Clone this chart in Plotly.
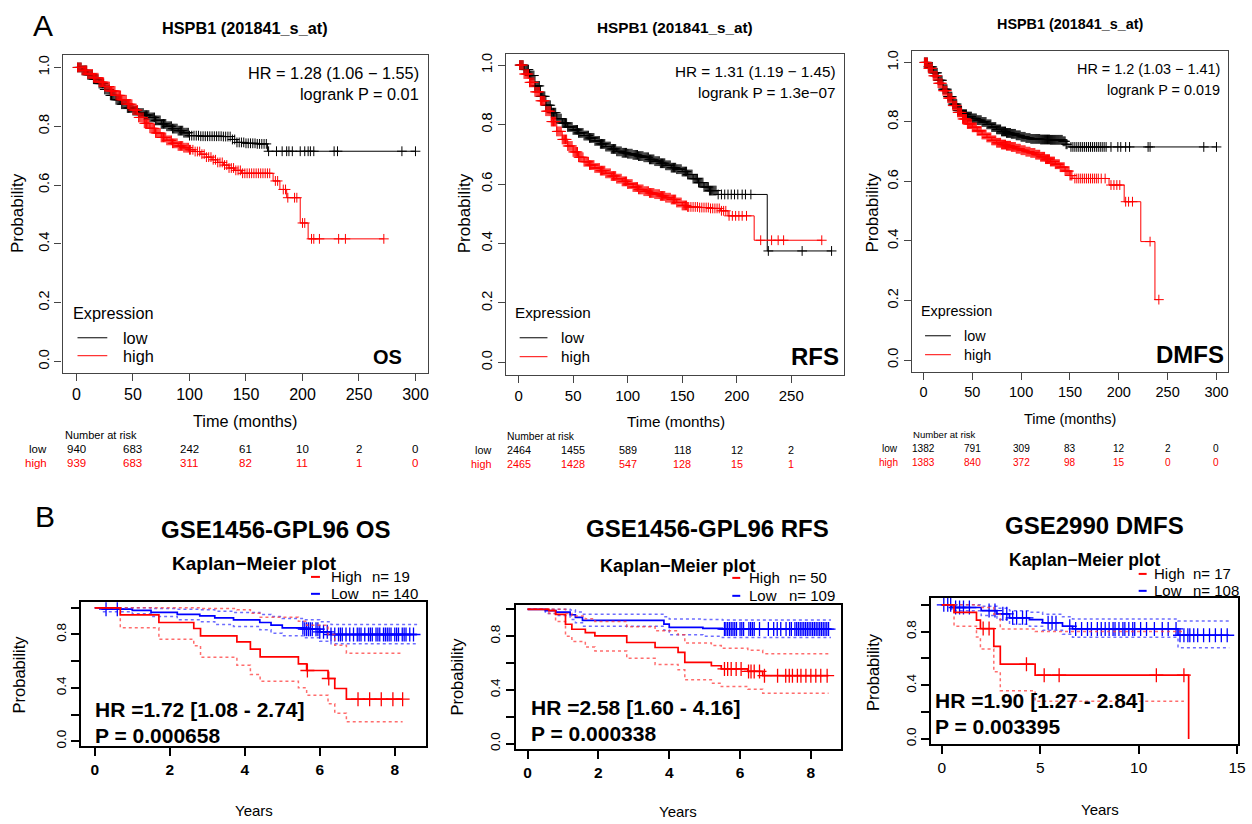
import numpy as np
import plotly.graph_objects as go

W, H = 1252, 824
FONT = "Liberation Sans, Arial, sans-serif"

# ---------------- Panel A1 : OS ----------------
a1_low_t = [0, 5, 10, 15, 20, 25, 30, 35, 40, 45, 50, 55, 60, 65, 70, 75, 80, 85, 90, 95, 100, 110, 120, 130, 138, 142, 150, 160, 169, 300]
a1_low_s = [1.0, 0.99, 0.975, 0.96, 0.945, 0.925, 0.905, 0.89, 0.875, 0.862, 0.853, 0.845, 0.838, 0.83, 0.82, 0.808, 0.80, 0.792, 0.785, 0.778, 0.768, 0.766, 0.766, 0.765, 0.755, 0.745, 0.742, 0.74, 0.715, 0.715]
a1_low_cens = [1, 2, 3, 4, 5, 6, 7, 8, 9, 10, 11, 12, 13, 14, 15, 16, 17, 18, 19, 20, 21, 22, 23, 24, 25, 26, 27, 28, 29, 30,
               31, 32, 33, 34, 35, 36, 37, 38, 39, 40, 41, 42, 43, 44, 45, 46, 47, 48, 49, 50, 51, 52, 53, 54, 55, 56, 57, 58, 59, 60,
               61, 62, 63, 64, 65, 66, 67, 68, 69, 70, 71, 72, 73, 74, 75, 76, 77, 78, 79, 80, 81, 82, 83, 84, 85, 86, 87, 88, 89, 90,
               91, 92, 93, 94, 95, 96, 97, 98, 99, 100, 102, 104, 106, 108, 110, 112, 114, 116, 118, 120, 122, 124, 126, 128, 130,
               132, 134, 136, 138, 140, 142, 144, 146, 148, 150, 152, 154, 156, 158, 160, 162, 164, 166, 168,
               170, 177, 182, 186, 188, 191, 198, 202, 205, 207, 210, 228, 231, 288, 300]
a1_high_t = [0, 5, 10, 15, 20, 25, 30, 35, 40, 45, 50, 55, 60, 65, 70, 75, 80, 85, 90, 95, 100, 105, 110, 115, 120, 125, 130, 135, 140, 146, 174, 180, 186, 198, 205, 272]
a1_high_s = [1.0, 0.99, 0.978, 0.965, 0.95, 0.935, 0.92, 0.905, 0.89, 0.875, 0.855, 0.83, 0.81, 0.793, 0.777, 0.762, 0.752, 0.742, 0.733, 0.727, 0.72, 0.714, 0.705, 0.695, 0.686, 0.677, 0.668, 0.658, 0.65, 0.64, 0.614, 0.585, 0.557, 0.471, 0.417, 0.417]
a1_high_cens = [1, 2, 3, 4, 5, 6, 7, 8, 9, 10, 11, 12, 13, 14, 15, 16, 17, 18, 19, 20, 21, 22, 23, 24, 25, 26, 27, 28, 29, 30,
                31, 32, 33, 34, 35, 36, 37, 38, 39, 40, 41, 42, 43, 44, 45, 46, 47, 48, 49, 50, 51, 52, 53, 54, 55, 56, 57, 58, 59, 60,
                61, 62, 63, 64, 65, 66, 67, 68, 69, 70, 71, 72, 73, 74, 75, 76, 77, 78, 79, 80, 81, 82, 83, 84, 85, 86, 87, 88, 89, 90,
                91, 92, 93, 94, 95, 96, 97, 98, 99, 100, 101, 103, 105, 107, 109, 111, 113, 115, 117, 119, 121, 123, 125, 127, 129,
                131, 133, 135, 137, 139, 141, 143, 145, 147, 149, 151, 153, 155, 157, 159, 161, 163, 165, 167, 169, 171,
                176, 178, 183, 185, 187, 193, 195, 200, 202, 208, 210, 215, 232, 238, 272]
a1_risk_t = [0, 50, 100, 150, 200, 250, 300]
a1_risk_low = [940, 683, 242, 61, 10, 2, 0]
a1_risk_high = [939, 683, 311, 82, 11, 1, 0]

# ---------------- Panel A2 : RFS ----------------
a2_low_t = [0, 5, 10, 15, 20, 25, 30, 35, 40, 45, 50, 55, 60, 65, 70, 75, 80, 85, 90, 95, 100, 105, 110, 115, 120, 125, 130, 135, 140, 145, 150, 155, 160, 165, 170, 175, 182, 228, 287]
a2_low_s = [1.0, 0.985, 0.965, 0.93, 0.895, 0.865, 0.84, 0.82, 0.805, 0.792, 0.782, 0.772, 0.763, 0.755, 0.745, 0.735, 0.726, 0.718, 0.71, 0.705, 0.702, 0.698, 0.694, 0.69, 0.683, 0.677, 0.67, 0.663, 0.655, 0.65, 0.642, 0.632, 0.618, 0.605, 0.59, 0.578, 0.565, 0.375, 0.375]
a2_low_cens = [1, 2, 3, 4, 5, 6, 7, 8, 9, 10, 11, 12, 13, 14, 15, 16, 17, 18, 19, 20, 21, 22, 23, 24, 25, 26, 27, 28, 29, 30,
               31, 32, 33, 34, 35, 36, 37, 38, 39, 40, 41, 42, 43, 44, 45, 46, 47, 48, 49, 50, 51, 52, 53, 54, 55, 56, 57, 58, 59, 60,
               61, 62, 63, 64, 65, 66, 67, 68, 69, 70, 71, 72, 73, 74, 75, 76, 77, 78, 79, 80, 81, 82, 83, 84, 85, 86, 87, 88, 89, 90,
               91, 92, 93, 94, 95, 96, 97, 98, 99, 100, 101, 102, 103, 104, 105, 106, 107, 108, 109, 110, 111, 112, 113, 114, 115,
               116, 117, 118, 119, 120, 121, 122, 123, 124, 125, 126, 127, 128, 129, 130, 131, 132, 133, 134, 135, 136, 137, 138,
               139, 140, 141, 142, 143, 144, 145, 146, 147, 148, 149, 150, 151, 152, 153, 154, 155, 156, 157, 158, 159, 160, 161,
               162, 163, 164, 165, 166, 167, 168, 169, 170, 171, 172, 173, 174, 175, 176, 177, 178, 179, 180, 181,
               183, 186, 189, 192, 195, 198, 201, 205, 208, 213, 229, 260, 287]
a2_high_t = [0, 5, 10, 15, 20, 25, 30, 35, 40, 45, 50, 55, 60, 65, 70, 75, 80, 85, 90, 95, 100, 105, 110, 115, 120, 125, 130, 135, 140, 145, 150, 155, 165, 175, 185, 192, 216, 278]
a2_high_s = [1.0, 0.97, 0.942, 0.91, 0.88, 0.845, 0.81, 0.777, 0.75, 0.728, 0.708, 0.69, 0.675, 0.664, 0.654, 0.645, 0.636, 0.627, 0.618, 0.609, 0.60, 0.59, 0.582, 0.576, 0.57, 0.566, 0.56, 0.554, 0.548, 0.538, 0.528, 0.523, 0.521, 0.518, 0.51, 0.493, 0.411, 0.411]
a2_high_cens = [1, 2, 3, 4, 5, 6, 7, 8, 9, 10, 11, 12, 13, 14, 15, 16, 17, 18, 19, 20, 21, 22, 23, 24, 25, 26, 27, 28, 29, 30,
                31, 32, 33, 34, 35, 36, 37, 38, 39, 40, 41, 42, 43, 44, 45, 46, 47, 48, 49, 50, 51, 52, 53, 54, 55, 56, 57, 58, 59, 60,
                61, 62, 63, 64, 65, 66, 67, 68, 69, 70, 71, 72, 73, 74, 75, 76, 77, 78, 79, 80, 81, 82, 83, 84, 85, 86, 87, 88, 89, 90,
                91, 92, 93, 94, 95, 96, 97, 98, 99, 100, 101, 102, 103, 104, 105, 106, 107, 108, 109, 110, 111, 112, 113, 114, 115,
                116, 117, 118, 119, 120, 121, 122, 123, 124, 125, 126, 127, 128, 129, 130, 131, 132, 133, 134, 135, 136, 137, 138,
                139, 140, 141, 142, 143, 144, 145, 146, 147, 148, 149, 150, 151, 152, 153, 154, 155, 156, 158, 160, 162, 164, 166,
                168, 170, 172, 174, 176, 178, 180, 182, 184, 186, 188, 190, 193, 196, 199, 202, 205, 209, 222, 232, 238, 243, 278]
a2_risk_t = [0, 50, 100, 150, 200, 250]
a2_risk_low = [2464, 1455, 589, 118, 12, 2]
a2_risk_high = [2465, 1428, 547, 128, 15, 1]

# ---------------- Panel A3 : DMFS ----------------
a3_low_t = [0, 5, 10, 15, 20, 25, 30, 35, 40, 45, 50, 55, 60, 65, 70, 75, 80, 85, 90, 95, 100, 105, 110, 120, 130, 143, 146, 149, 300]
a3_low_s = [1.0, 0.985, 0.965, 0.94, 0.91, 0.885, 0.86, 0.838, 0.826, 0.818, 0.812, 0.806, 0.80, 0.792, 0.783, 0.775, 0.768, 0.763, 0.76, 0.755, 0.75, 0.746, 0.743, 0.741, 0.74, 0.735, 0.725, 0.716, 0.716]
a3_low_cens = [1, 2, 3, 4, 5, 6, 7, 8, 9, 10, 11, 12, 13, 14, 15, 16, 17, 18, 19, 20, 21, 22, 23, 24, 25, 26, 27, 28, 29, 30,
               31, 32, 33, 34, 35, 36, 37, 38, 39, 40, 41, 42, 43, 44, 45, 46, 47, 48, 49, 50, 51, 52, 53, 54, 55, 56, 57, 58, 59, 60,
               61, 62, 63, 64, 65, 66, 67, 68, 69, 70, 71, 72, 73, 74, 75, 76, 77, 78, 79, 80, 81, 82, 83, 84, 85, 86, 87, 88, 89, 90,
               91, 92, 93, 94, 95, 96, 97, 98, 99, 100, 101, 102, 103, 104, 105, 106, 107, 108, 109, 110, 111, 112, 113, 114, 115,
               116, 117, 118, 119, 120, 121, 122, 123, 124, 125, 126, 127, 128, 129, 130, 131, 132, 133, 134, 135, 136, 137, 138,
               139, 140, 141, 142, 143, 144, 145, 146, 147,
               151, 153, 155, 157, 159, 161, 163, 165, 167, 169, 171, 173, 175, 177, 179, 181, 183, 185, 187,
               192, 199, 202, 207, 211, 230, 232, 287, 300]
a3_high_t = [0, 5, 10, 15, 20, 25, 30, 35, 40, 45, 50, 55, 60, 65, 70, 75, 80, 85, 90, 95, 100, 105, 110, 115, 120, 125, 130, 135, 140, 145, 150, 153, 190, 205.5, 222.5, 237, 241]
a3_high_s = [1.0, 0.98, 0.955, 0.93, 0.905, 0.88, 0.855, 0.832, 0.81, 0.793, 0.782, 0.77, 0.758, 0.748, 0.738, 0.73, 0.724, 0.72, 0.716, 0.71, 0.705, 0.70, 0.696, 0.69, 0.683, 0.675, 0.667, 0.658, 0.648, 0.635, 0.62, 0.61, 0.588, 0.532, 0.398, 0.203, 0.203]
a3_high_cens = [1, 2, 3, 4, 5, 6, 7, 8, 9, 10, 11, 12, 13, 14, 15, 16, 17, 18, 19, 20, 21, 22, 23, 24, 25, 26, 27, 28, 29, 30,
                31, 32, 33, 34, 35, 36, 37, 38, 39, 40, 41, 42, 43, 44, 45, 46, 47, 48, 49, 50, 51, 52, 53, 54, 55, 56, 57, 58, 59, 60,
                61, 62, 63, 64, 65, 66, 67, 68, 69, 70, 71, 72, 73, 74, 75, 76, 77, 78, 79, 80, 81, 82, 83, 84, 85, 86, 87, 88, 89, 90,
                91, 92, 93, 94, 95, 96, 97, 98, 99, 100, 101, 102, 103, 104, 105, 106, 107, 108, 109, 110, 111, 112, 113, 114, 115,
                116, 117, 118, 119, 120, 121, 122, 123, 124, 125, 126, 127, 128, 129, 130, 131, 132, 133, 134, 135, 136, 137, 138,
                139, 140, 141, 142, 143, 144, 145, 146, 147, 148, 149, 150, 151, 152,
                155, 157, 159, 161, 163, 165, 167, 169, 171, 173, 175, 177, 179, 182, 186, 192, 195, 198, 201, 207, 210, 214, 232, 241]
a3_risk_t = [0, 50, 100, 150, 200, 250, 300]
a3_risk_low = [1382, 791, 309, 83, 12, 2, 0]
a3_risk_high = [1383, 840, 372, 98, 15, 0, 0]

# ---------------- Panel B1 : GSE1456-GPL96 OS ----------------
b1_high_t = [0, 0.68, 1.71, 2.64, 2.82, 3.79, 4.15, 4.41, 5.43, 5.65, 6.22, 6.40, 6.71, 8.21]
b1_high_s = [1.0, 0.947, 0.89, 0.845, 0.79, 0.745, 0.69, 0.632, 0.58, 0.53, 0.47, 0.395, 0.315, 0.315]
b1_high_up = [1.0, 1.0, 1.0, 1.0, 0.995, 0.985, 0.96, 0.93, 0.90, 0.87, 0.80, 0.72, 0.66, 0.66]
b1_high_lo = [1.0, 0.85, 0.765, 0.715, 0.63, 0.57, 0.50, 0.45, 0.40, 0.345, 0.28, 0.21, 0.145, 0.145]
b1_high_cens = [5.67, 6.24, 7.02, 7.33, 7.64, 7.95, 8.21]
b1_low_t = [0, 0.2, 1.0, 1.5, 2.2, 2.8, 3.2, 3.7, 4.4, 4.7, 5.0, 5.6, 6.0, 6.3, 8.6]
b1_low_s = [1.0, 0.99, 0.98, 0.965, 0.95, 0.94, 0.925, 0.91, 0.89, 0.87, 0.85, 0.84, 0.82, 0.80, 0.80]
b1_low_up = [1.0, 1.0, 1.0, 0.995, 0.99, 0.985, 0.975, 0.965, 0.95, 0.935, 0.92, 0.91, 0.895, 0.875, 0.875]
b1_low_lo = [1.0, 0.97, 0.955, 0.935, 0.91, 0.895, 0.875, 0.86, 0.835, 0.81, 0.79, 0.775, 0.75, 0.73, 0.73]
b1_low_cens = [0.3, 0.6, 5.55, 5.6, 5.65, 5.7, 5.75, 5.8, 5.9, 5.95, 6.0, 6.1, 6.2, 6.3, 6.4, 6.5, 6.55, 6.6, 6.7, 6.8, 6.9, 7.0, 7.05, 7.1, 7.2, 7.3, 7.35, 7.4, 7.5, 7.55, 7.6, 7.7, 7.75, 7.8, 7.85, 7.9, 8.0, 8.05, 8.1, 8.2, 8.25, 8.3, 8.4, 8.5]

# ---------------- Panel B2 : GSE1456-GPL96 RFS ----------------
b2_high_t = [0, 0.6, 0.79, 1.07, 1.25, 1.63, 1.9, 2.8, 3.6, 4.25, 4.44, 5.19, 5.47, 6.22, 6.64, 8.5]
b2_high_s = [1.0, 0.99, 0.963, 0.889, 0.852, 0.827, 0.802, 0.753, 0.716, 0.679, 0.605, 0.58, 0.556, 0.538, 0.506, 0.506]
b2_high_up = [1.0, 1.0, 1.0, 0.97, 0.95, 0.93, 0.91, 0.87, 0.84, 0.81, 0.75, 0.73, 0.71, 0.695, 0.67, 0.67]
b2_high_lo = [1.0, 0.97, 0.91, 0.80, 0.76, 0.72, 0.69, 0.635, 0.59, 0.55, 0.475, 0.45, 0.425, 0.405, 0.375, 0.375]
b2_high_cens = [5.56, 5.65, 5.75, 5.89, 6.03, 6.24, 6.31, 6.40, 6.55, 6.69, 7.06, 7.29, 7.39, 7.48, 7.62, 7.72, 7.86, 8.0, 8.14, 8.28, 8.46]
b2_low_t = [0, 0.5, 0.8, 1.2, 1.35, 1.55, 3.85, 4.0, 4.95, 5.5, 8.57]
b2_low_s = [1.0, 0.99, 0.98, 0.96, 0.94, 0.918, 0.89, 0.866, 0.858, 0.853, 0.853]
b2_low_up = [1.0, 1.0, 1.0, 0.995, 0.98, 0.963, 0.945, 0.928, 0.925, 0.92, 0.92]
b2_low_lo = [1.0, 0.97, 0.955, 0.925, 0.90, 0.875, 0.845, 0.81, 0.80, 0.79, 0.79]
b2_low_cens = [5.56, 5.6, 5.65, 5.7, 5.75, 5.8, 5.85, 5.9, 6.0, 6.05, 6.1, 6.25, 6.3, 6.35, 6.4, 6.55, 6.8, 6.95, 7.05, 7.15, 7.3, 7.4, 7.45, 7.55, 7.6, 7.65, 7.7, 7.75, 7.8, 7.85, 7.9, 7.95, 8.0, 8.05, 8.1, 8.15, 8.2, 8.25, 8.3, 8.35, 8.4, 8.45, 8.5]

# ---------------- Panel B3 : GSE2990 DMFS ----------------
b3_high_t = [0, 0.62, 1.76, 1.96, 2.64, 2.97, 4.74, 12.54]
b3_high_s = [1.0, 0.943, 0.885, 0.823, 0.69, 0.557, 0.475, 0.0]
b3_high_ci_t = [0, 0.62, 1.76, 1.96, 2.64, 2.97, 4.74, 12.3]
b3_high_up = [1.0, 1.0, 0.995, 0.98, 0.93, 0.82, 0.80, 0.80]
b3_high_lo = [1.0, 0.84, 0.76, 0.67, 0.50, 0.36, 0.28, 0.28]
b3_high_cens = [2.1, 2.4, 4.3, 5.2, 5.96, 10.9, 12.3]
b3_low_t = [0, 0.5, 2.0, 2.8, 3.44, 4.45, 5.12, 6.13, 6.64, 12.0, 14.6]
b3_low_s = [1.0, 0.98, 0.957, 0.933, 0.903, 0.89, 0.866, 0.84, 0.82, 0.773, 0.773]
b3_low_up = [1.0, 1.0, 0.99, 0.975, 0.955, 0.945, 0.93, 0.91, 0.895, 0.88, 0.88]
b3_low_lo = [1.0, 0.955, 0.92, 0.89, 0.855, 0.84, 0.81, 0.78, 0.758, 0.68, 0.68]
b3_low_cens = [0.1, 0.3, 0.45, 0.7, 0.9, 1.1, 1.4, 2.4, 2.7, 3.1, 3.3, 3.6, 3.8, 4.1, 4.3, 5.4, 5.6, 5.8, 6.5, 6.8, 7.1, 7.4, 7.6, 7.9, 8.1, 8.3, 8.5, 8.7, 8.8, 9.0, 9.2, 9.3, 9.5, 9.7, 9.8, 10.1, 10.4, 10.8, 11.2, 11.5, 11.9, 12.1, 12.3, 12.5, 12.6, 12.8, 13.0, 13.3, 13.6, 13.9, 14.2, 14.5]

# ---------------- helpers ----------------
def px(x):
    return x / W


def py(y):
    return 1 - y / H


def surv_at(ts, ss, c):
    ts = np.asarray(ts, float)
    ss = np.asarray(ss, float)
    idx = np.clip(np.searchsorted(ts, np.asarray(c, float), side="right") - 1, 0, None)
    return ss[idx]


fig = go.Figure()
annotations = []
shapes = []


def axname(k):
    return ("x", "y") if k == 1 else (f"x{k}", f"y{k}")


def add_curve(k, t, s, color, width=1.0, dash="solid"):
    xa, ya = axname(k)
    fig.add_trace(go.Scatter(x=t, y=s, mode="lines", line=dict(color=color, width=width, dash=dash, shape="hv"),
                             xaxis=xa, yaxis=ya, showlegend=False, hoverinfo="skip"))


def add_cens(k, t, s, cens, color, size=7, lw=1.0):
    xa, ya = axname(k)
    fig.add_trace(go.Scatter(x=cens, y=surv_at(t, s, cens), mode="markers",
                             marker=dict(symbol="cross-thin", size=size, line=dict(color=color, width=lw)),
                             xaxis=xa, yaxis=ya, showlegend=False, hoverinfo="skip"))


def ann(text, x, y, size, bold=False, xanchor="center", yanchor="middle", color="black", angle=0,
        xref="paper", yref="paper"):
    if bold:
        text = f"<b>{text}</b>"
    annotations.append(dict(text=text, x=px(x) if xref == "paper" else x, y=py(y) if yref == "paper" else y,
                            xref=xref, yref=yref, xanchor=xanchor, yanchor=yanchor, showarrow=False,
                            textangle=angle, borderpad=0, font=dict(size=size, color=color, family=FONT)))


def set_axes(k, box, xr, yr, xt, yt, ytext, lc, lw, tl, xfont, yfont):
    x0, y0, x1, y1 = box
    xk = "xaxis" if k == 1 else f"xaxis{k}"
    yk = "yaxis" if k == 1 else f"yaxis{k}"
    xa, ya = axname(k)
    common = dict(showline=True, mirror=True, linecolor=lc, linewidth=lw, ticks="outside", ticklen=tl,
                  tickwidth=lw, tickcolor=lc, showgrid=False, zeroline=False, fixedrange=True,
                  ticklabeloverflow="allow")
    fig.layout[xk] = dict(domain=[px(x0), px(x1)], range=xr, anchor=ya, tickvals=xt,
                          ticktext=[str(v) for v in xt], tickfont=xfont, **common)
    fig.layout[yk] = dict(domain=[py(y1), py(y0)], range=yr, anchor=xa, tickvals=yt, ticktext=ytext,
                          tickangle=-90, tickfont=yfont, **common)


GRAY = "#444444"
RED = "#FF0000"
BLUE = "#0000FF"
RED_CI = "rgba(255,60,60,0.75)"
BLUE_CI = "rgba(60,60,255,0.75)"

ylab_a = ["0.0", "0.2", "0.4", "0.6", "0.8", "1.0"]
yt6 = [0, 0.2, 0.4, 0.6, 0.8, 1.0]

# ---------- A panels ----------
A = [
    dict(k=1, box=(63, 54, 431, 373), xr=[-12.3, 311.3], yr=[-0.038, 1.043], xt=[0, 50, 100, 150, 200, 250, 300],
         low=(a1_low_t, a1_low_s, a1_low_cens), high=(a1_high_t, a1_high_s, a1_high_cens),
         risk=(a1_risk_t, a1_risk_low, a1_risk_high), title_x=247, title_y=27, fs=16.3, tfs=16,
         hr="HR = 1.28 (1.06 − 1.55)", p="logrank P = 0.01", hr_x=423, hr_y=72, p_y=93,
         tag="OS", tag_x=406, tag_y=357, tag_size=20,
         exp_x=72, exp_y=313, leg_x0=78, leg_x1=108, leg_tx=123, low_y=338, high_y=356,
         xlab_x=247, xlab_y=422, ylab_x=17, ylab_y=213,
         nr_x=64, nr_y=436, nrfs=11, rl_x=48, rlow_y=450, rhigh_y=464),
    dict(k=2, box=(509, 53, 849, 375), xr=[-11.8, 298.0], yr=[-0.041, 1.038], xt=[0, 50, 100, 150, 200, 250],
         low=(a2_low_t, a2_low_s, a2_low_cens), high=(a2_high_t, a2_high_s, a2_high_cens),
         risk=(a2_risk_t, a2_risk_low, a2_risk_high), title_x=679, title_y=27, fs=15.3, tfs=15,
         hr="HR = 1.31 (1.19 − 1.45)", p="logrank P = 1.3e−07", hr_x=842, hr_y=71, p_y=92,
         tag="RFS", tag_x=845, tag_y=357, tag_size=24,
         exp_x=517, exp_y=313, leg_x0=523, leg_x1=551, leg_tx=564, low_y=338, high_y=357,
         xlab_x=680, xlab_y=422, ylab_x=467, ylab_y=213,
         nr_x=509, nr_y=437, nrfs=10.3, rl_x=495, rlow_y=451, rhigh_y=465),
    dict(k=3, box=(918, 50, 1236, 372), xr=[-11.6, 311.9], yr=[-0.039, 1.039], xt=[0, 50, 100, 150, 200, 250, 300],
         low=(a3_low_t, a3_low_s, a3_low_cens), high=(a3_high_t, a3_high_s, a3_high_cens),
         risk=(a3_risk_t, a3_risk_low, a3_risk_high), title_x=1077, title_y=23, fs=14.4, tfs=14.5,
         hr="HR = 1.2 (1.03 − 1.41)", p="logrank P = 0.019", hr_x=1229, hr_y=68, p_y=89,
         tag="DMFS", tag_x=1233, tag_y=355, tag_size=24,
         exp_x=926, exp_y=311, leg_x0=931, leg_x1=957, leg_tx=969, low_y=336, high_y=355,
         xlab_x=1077, xlab_y=420, ylab_x=878, ylab_y=212,
         nr_x=918, nr_y=435, nrfs=9.6, rl_x=905, rlow_y=449, rhigh_y=463),
]

for P in A:
    k = P["k"]
    fs = P["fs"]
    set_axes(k, P["box"], P["xr"], P["yr"], P["xt"], yt6, ylab_a, GRAY, 1.2, 7,
             dict(size=P["tfs"], family=FONT, color="black"), dict(size=14.5, family=FONT, color="black"))
    lt, ls, lc = P["low"]
    ht, hs, hc = P["high"]
    add_curve(k, lt, ls, "black", 1.0)
    add_curve(k, ht, hs, RED, 1.0)
    add_cens(k, lt, ls, lc, "black", 7, 1.0)
    add_cens(k, ht, hs, hc, RED, 7, 1.0)
    ann("HSPB1 (201841_s_at)", P["title_x"], P["title_y"], fs, bold=True)
    ann(P["hr"], P["hr_x"], P["hr_y"], fs, xanchor="right")
    ann(P["p"], P["hr_x"], P["p_y"], fs, xanchor="right")
    ann(P["tag"], P["tag_x"], P["tag_y"], P["tag_size"], bold=True, xanchor="right")
    ann("Expression", P["exp_x"], P["exp_y"], fs, xanchor="left")
    ann("low", P["leg_tx"], P["low_y"], fs, xanchor="left")
    ann("high", P["leg_tx"], P["high_y"], fs, xanchor="left")
    shapes.append(dict(type="line", xref="paper", yref="paper", x0=px(P["leg_x0"]), x1=px(P["leg_x1"]),
                       y0=py(P["low_y"]), y1=py(P["low_y"]), line=dict(color="black", width=1)))
    shapes.append(dict(type="line", xref="paper", yref="paper", x0=px(P["leg_x0"]), x1=px(P["leg_x1"]),
                       y0=py(P["high_y"]), y1=py(P["high_y"]), line=dict(color=RED, width=1)))
    ann("Time (months)", P["xlab_x"], P["xlab_y"], fs)
    ann("Probability", P["ylab_x"], P["ylab_y"], 17, angle=-90)
    ann("Number at risk", P["nr_x"], P["nr_y"], P["nrfs"], xanchor="left")
    ann("low", P["rl_x"], P["rlow_y"], P["nrfs"] + 0.5, xanchor="right")
    ann("high", P["rl_x"], P["rhigh_y"], P["nrfs"] + 0.5, xanchor="right", color=RED)
    xa, _ = axname(k)
    rt, rlow, rhigh = P["risk"]
    for t, a, b in zip(rt, rlow, rhigh):
        ann(str(a), t, P["rlow_y"], P["nrfs"] + 0.5, xref=xa)
        ann(str(b), t, P["rhigh_y"], P["nrfs"] + 0.5, xref=xa, color=RED)

# ---------- B panels ----------
B = [
    dict(k=4, box=(82, 603, 429, 748), xr=[-0.355, 8.84], yr=[-0.038, 1.045], xt=[0, 2, 4, 6, 8], xbold=True,
         high=(b1_high_t, b1_high_s, b1_high_cens, b1_high_t, b1_high_up, b1_high_lo),
         low=(b1_low_t, b1_low_s, b1_low_cens, b1_low_t, b1_low_up, b1_low_lo),
         title="GSE1456-GPL96 OS", title_x=277, title_y=530, km_x=256, km_y=565, kmfs=19,
         leg=(313, 322, 332, 373, 578, 595), nh="n= 19", nl="n= 140",
         hr="HR =1.72 [1.08 - 2.74]", p="P = 0.000658", hr_x=95, hr_y=711, p_y=737,
         ylab_x=19, ylab_y=676, years_x=256, years_y=812),
    dict(k=5, box=(519, 606, 846, 751), xr=[-0.337, 8.84], yr=[-0.042, 1.034], xt=[0, 2, 4, 6, 8], xbold=True,
         high=(b2_high_t, b2_high_s, b2_high_cens, b2_high_t, b2_high_up, b2_high_lo),
         low=(b2_low_t, b2_low_s, b2_low_cens, b2_low_t, b2_low_up, b2_low_lo),
         title="GSE1456-GPL96 RFS", title_x=712, title_y=529, km_x=682, km_y=567, kmfs=18,
         leg=(737, 745, 753, 793, 579, 597), nh="n= 50", nl="n= 109",
         hr="HR =2.58 [1.60 - 4.16]", p="P = 0.000338", hr_x=533, hr_y=709, p_y=735,
         ylab_x=459, ylab_y=678, years_x=682, years_y=813),
    dict(k=6, box=(937, 599, 1246, 746), xr=[-0.55, 15.05], yr=[-0.04, 1.052], xt=[0, 5, 10, 15], xbold=False,
         high=(b3_high_t, b3_high_s, b3_high_cens, b3_high_ci_t, b3_high_up, b3_high_lo),
         low=(b3_low_t, b3_low_s, b3_low_cens, b3_low_t, b3_low_up, b3_low_lo),
         title="GSE2990 DMFS", title_x=1102, title_y=526, km_x=1091, km_y=561, kmfs=17.5,
         leg=(1146, 1154, 1160, 1200, 575, 592), nh="n= 17", nl="n= 108",
         hr="HR =1.90 [1.27 - 2.84]", p="P = 0.003395", hr_x=940, hr_y=702, p_y=728,
         ylab_x=878, ylab_y=673, years_x=1107, years_y=811),
]

ylab_b = ["0.0", "", "0.4", "", "0.8", ""]
for P in B:
    k = P["k"]
    xf = dict(size=15.5, family=FONT, color="black")
    if P["xbold"]:
        xf = dict(size=15.5, family=FONT, color="black", weight="bold")
    set_axes(k, P["box"], P["xr"], P["yr"], P["xt"], yt6, ylab_b, "black", 2, 8, xf,
             dict(size=13.5, family=FONT, color="black"))
    for (t, s, c, cit, up, lo), col, cicol in ((P["low"], BLUE, BLUE_CI), (P["high"], RED, RED_CI)):
        add_curve(k, cit, up, cicol, 1.5, "dot")
        add_curve(k, cit, lo, cicol, 1.5, "dot")
        add_curve(k, t, s, col, 1.7)
        add_cens(k, t, s, c, col, 10, 1.3)
    ann(P["title"], P["title_x"], P["title_y"], 24, bold=True)
    ann("Kaplan−Meier plot", P["km_x"], P["km_y"], P["kmfs"], bold=True)
    dx0, dx1, tx, nx, yh, yl = P["leg"]
    shapes.append(dict(type="line", xref="paper", yref="paper", x0=px(dx0), x1=px(dx1), y0=py(yh), y1=py(yh),
                       line=dict(color=RED, width=2)))
    shapes.append(dict(type="line", xref="paper", yref="paper", x0=px(dx0), x1=px(dx1), y0=py(yl), y1=py(yl),
                       line=dict(color=BLUE, width=2)))
    ann("High", tx, yh, 15, xanchor="left")
    ann(P["nh"], nx, yh, 15, xanchor="left")
    ann("Low", tx, yl, 15, xanchor="left")
    ann(P["nl"], nx, yl, 15, xanchor="left")
    ann(P["hr"], P["hr_x"], P["hr_y"], 21, bold=True, xanchor="left")
    ann(P["p"], P["hr_x"], P["p_y"], 21, bold=True, xanchor="left")
    ann("Probability", P["ylab_x"], P["ylab_y"], 16.5, angle=-90)
    ann("Years", P["years_x"], P["years_y"], 15)

ann("A", 43, 25, 30)
ann("B", 45, 517, 30)

fig.update_layout(width=W, height=H, margin=dict(l=0, r=0, t=0, b=0), paper_bgcolor="white",
                  plot_bgcolor="white", annotations=annotations, shapes=shapes, showlegend=False,
                  font=dict(family=FONT, color="black"))
fig.write_html("out.html", config={"displayModeBar": False},
               post_script="document.body.style.margin='0px';document.body.style.overflow='hidden';")
